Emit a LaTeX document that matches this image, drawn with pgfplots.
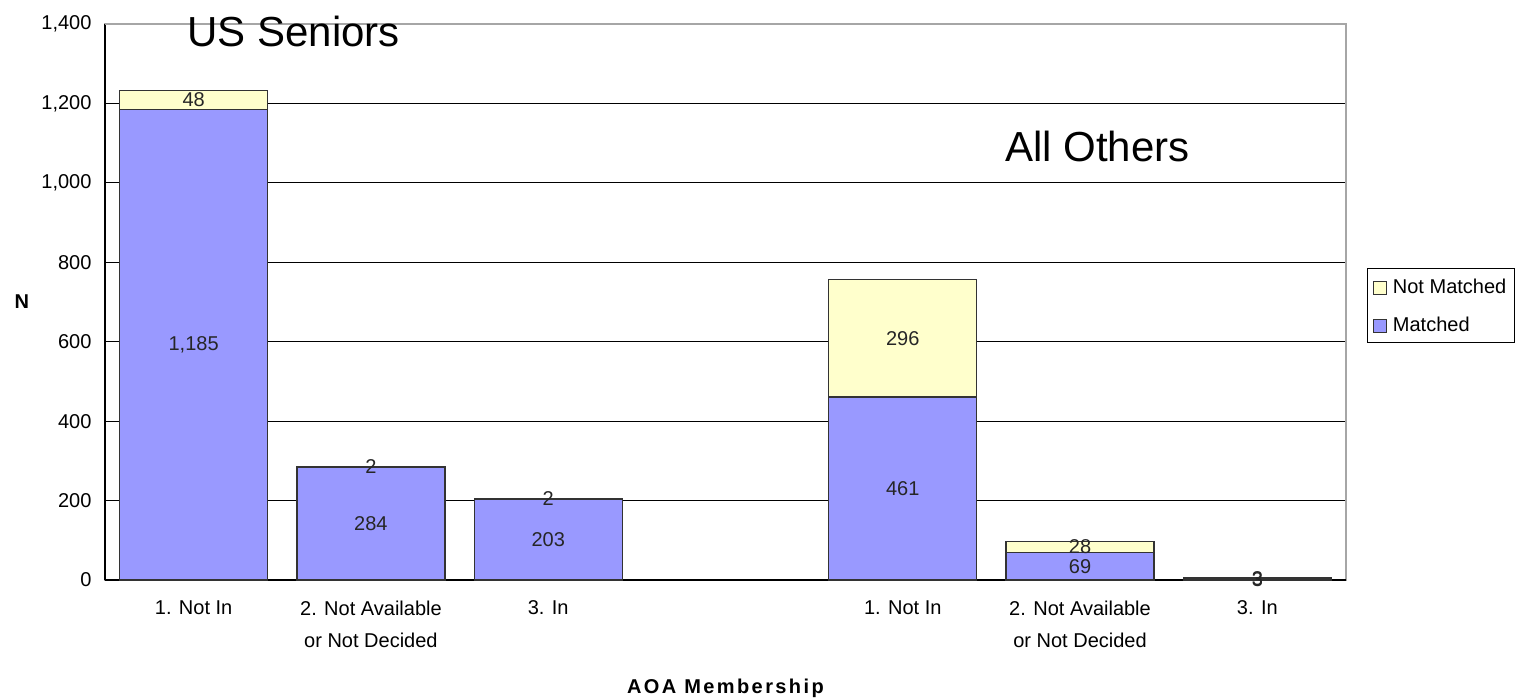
\documentclass[border=0pt]{standalone}
\usepackage{fontspec}
\setmainfont{Liberation Sans}
\usepackage{pgfplots}
\pgfplotsset{compat=1.18}
\definecolor{matched}{HTML}{9999FF}
\definecolor{notmatched}{HTML}{FFFFCC}
\newcommand{\lbl}{\fontsize{20}{32}\selectfont}

\begin{document}
\begin{tikzpicture}
\useasboundingbox (0,0) rectangle (1520pt,697pt);
\begin{axis}[
  at={(105pt,117pt)}, anchor=south west,
  width=1241pt, height=556pt, scale only axis, clip=false,
  ybar stacked, bar width=0.835,
  xmin=-0.5, xmax=6.5, ymin=0, ymax=1400,
  xtick={0,1,2,4,5,6},
  xticklabels={1. Not In, {2. Not Available\\or Not Decided}, 3. In,
               1. Not In, {2. Not Available\\or Not Decided}, 3. In},
  xticklabel style={align=center, font=\lbl, yshift=-17pt},
  ytick={0,200,...,1400},
  yticklabel style={font=\lbl, xshift=-10pt},
  xtick style={draw=none}, ytick style={draw=none},
  ymajorgrids, grid style={black, line width=1pt},
  axis line style={gray!70, line width=1.2pt},
  /pgf/number format/1000 sep={,},
  /pgf/number format/assume math mode=true,
  xlabel={\bfseries\addfontfeature{LetterSpace=12}AOA Membership},
  xlabel style={font=\lbl, at={(axis description cs:0.5,-0.194)}, anchor=center},
  ylabel={\bfseries N},
  ylabel style={font=\lbl, rotate=-90, at={(axis description cs:-0.067,0.5)}, anchor=center},
  nodes near coords,
  every node near coord/.append style={anchor=center, font=\lbl, black!85},
  legend style={at={(1.0169,0.561)}, anchor=north west, draw=black, line width=1pt,
    font=\lbl, row sep=18pt, inner xsep=6pt, inner ysep=8pt, cells={anchor=west}},
  reverse legend,
  legend image code/.code={\draw[#1, line width=1pt] (0pt,-8pt) rectangle (13pt,5pt); \path[draw=none, fill=none] (0pt,0pt) (17pt,0pt);},
]
\addplot[fill=matched, draw=black!80, line width=1.2pt]
  coordinates {(0,1185) (1,284) (2,203) (4,461) (5,69) (6,3)};
\addplot[fill=notmatched, draw=black!80, line width=1.2pt]
  coordinates {(0,48) (1,2) (2,2) (4,296) (5,28) (6,3)};
\legend{Matched, Not Matched}
\node[anchor=west, font=\fontsize{42}{48}\selectfont] at (rel axis cs:0.0635,0.987) {US Seniors};
\node[anchor=west, font=\fontsize{42}{48}\selectfont] at (rel axis cs:0.7225,0.779) {All Others};
\draw[gray!70, line width=1.2pt] (rel axis cs:0,1) -- (rel axis cs:1,1);
\draw[black, line width=1.5pt] (rel axis cs:0,0) -- (rel axis cs:0,1);
\draw[black, line width=1.5pt] (rel axis cs:0,0) -- (rel axis cs:1,0);
\end{axis}
\end{tikzpicture}
\end{document}
